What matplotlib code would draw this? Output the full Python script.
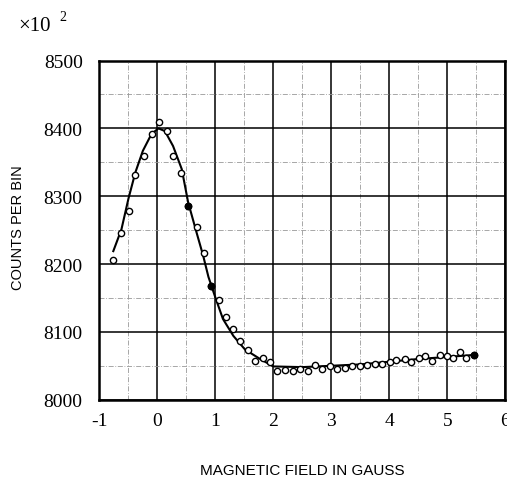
import numpy as np
import matplotlib.pyplot as plt
from matplotlib.ticker import MultipleLocator

plt.rcParams['axes.unicode_minus'] = False

# measured points (gauss, counts per bin / 100)
field = [-0.76, -0.62, -0.49, -0.38, -0.23, -0.10, 0.02, 0.16, 0.27, 0.40, 0.53, 0.68, 0.80,
         0.92, 1.06, 1.18, 1.31, 1.43, 1.57, 1.69, 1.82, 1.94,
         2.07, 2.20, 2.33, 2.46, 2.59, 2.72, 2.84, 2.97, 3.10, 3.23, 3.36, 3.49, 3.62, 3.75,
         3.88, 4.01, 4.12, 4.26, 4.38, 4.51, 4.62, 4.74, 4.87, 4.99, 5.10, 5.22, 5.32, 5.46]
counts = [8206, 8246, 8278, 8331, 8359, 8391, 8410, 8396, 8360, 8334, 8285, 8255, 8216,
          8167, 8147, 8122, 8104, 8087, 8073, 8057, 8062, 8055,
          8042, 8044, 8042, 8045, 8042, 8051, 8045, 8050, 8045, 8047, 8050, 8050, 8051, 8052,
          8052, 8055, 8058, 8060, 8055, 8062, 8065, 8057, 8066, 8064, 8061, 8070, 8061, 8066]
filled = [10, 13, 49]

# fitted curve
fit_x = [-0.76, -0.62, -0.50, -0.38, -0.25, -0.10, 0.02, 0.13, 0.27, 0.42, 0.53, 0.68, 0.79,
         0.88, 0.99, 1.13, 1.31, 1.51, 1.77, 2.0, 2.5, 3.0, 3.5, 4.0, 4.5, 5.0, 5.46]
fit_y = [8219, 8251, 8296, 8335, 8367, 8392, 8400, 8396, 8374, 8340, 8291, 8245, 8212,
         8181, 8153, 8119, 8094, 8074, 8060, 8049, 8048, 8050, 8052, 8056, 8060, 8063, 8066]

xticks = [-1, 0, 1, 2, 3, 4, 5, 6]
yticks = [8000, 8100, 8200, 8300, 8400, 8500]

fig = plt.figure(figsize=(5.07, 4.81), dpi=100)
ax = fig.add_axes([0.196, 0.167, 0.801, 0.705])

ax.plot(fit_x, fit_y, color='black', lw=1.5, zorder=3)
ax.plot(field, counts, 'o', ms=4.5, mfc='white', mec='black', mew=1.0, zorder=4)
ax.plot([field[i] for i in filled], [counts[i] for i in filled], 'o', ms=4.5,
        mfc='black', mec='black', zorder=5)

ax.set_xlim(-1, 6)
ax.set_ylim(8000, 8500)
ax.set_xticks(xticks)
ax.set_yticks(yticks)
ax.xaxis.set_minor_locator(MultipleLocator(0.5))
ax.yaxis.set_minor_locator(MultipleLocator(50))
ax.grid(which='major', color='black', lw=1.1)
ax.grid(which='minor', color='#999999', lw=0.6, ls=(0, (6, 2, 1, 2)))
ax.set_axisbelow(True)
ax.tick_params(which='both', length=0)
ax.tick_params(axis='y', pad=12)
ax.tick_params(axis='x', pad=9)
for lab in ax.get_xticklabels() + ax.get_yticklabels():
    lab.set_fontfamily('Liberation Serif')
    lab.set_fontsize(14)
for s in ax.spines.values():
    s.set_linewidth(1.8)

fig.text(0.036, 0.935, '×10', fontsize=15, family='Liberation Serif')
fig.text(0.118, 0.957, '2', fontsize=10, family='Liberation Serif')
fig.text(0.036, 0.526, 'COUNTS PER BIN', rotation=90, fontsize=10.5,
         family='Liberation Sans', ha='center', va='center')
fig.text(0.597, 0.021, 'MAGNETIC FIELD IN GAUSS', fontsize=11,
         family='Liberation Sans', ha='center', va='center')

fig.savefig('out.png', dpi=100)
